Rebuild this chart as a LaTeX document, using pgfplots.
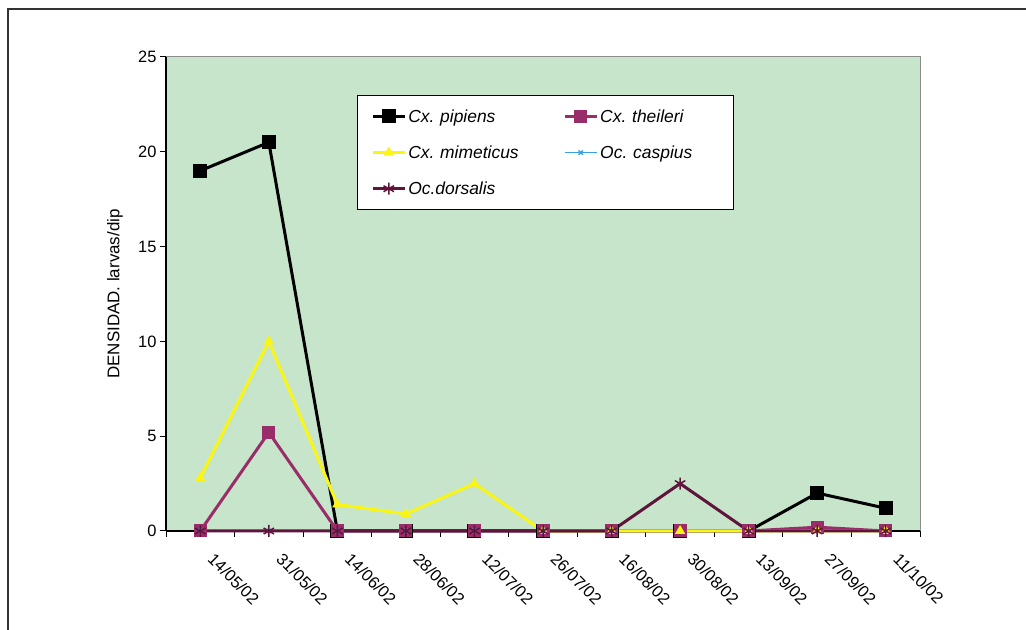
\documentclass[border=0pt]{standalone}
\usepackage{pgfplots}
\usepackage{pgfplotstable}
\pgfplotsset{compat=1.18}
\usepackage{fontspec}
\setmainfont{Liberation Sans}
\frenchspacing

\definecolor{plotbg}{RGB}{199,229,203}
\definecolor{theileri}{RGB}{153,45,105}
\definecolor{mimeticus}{RGB}{250,245,20}
\definecolor{caspius}{RGB}{60,160,230}
\definecolor{dorsalis}{RGB}{95,20,60}

% Larval density per dip, one column per species; x = sampling date index
\pgfplotstableread{
x  pipiens theileri mimeticus caspius dorsalis
0  19.0    0.0      2.8       0       0
1  20.5    5.2      10.0      0       0
2  0.0     0.0      1.4       0       0
3  0.0     0.0      0.9       0       0
4  0.0     0.0      2.5       0       0
5  0.0     0.0      0.0       0       0
6  0.0     0.0      0.0       0       0
7  0.0     0.0      0.0       nan     2.5
8  0.0     0.0      0.0       nan     0
9  2.0     0.2      0.0       nan     0
10 1.2     0.0      0.0       nan     0
}\density

\begin{document}
\begin{tikzpicture}
\useasboundingbox (0,0) rectangle (1026bp,630bp);
% outer frame
\draw[line width=1.5bp, black!80] (8bp,0) -- (8bp,621bp) -- (1026bp,621bp);
\begin{axis}[
  at={(166bp,99bp)}, anchor=south west,
  scale only axis, width=754bp, height=474bp,
  xmin=-0.5, xmax=10.5, ymin=0, ymax=25,
  ytick={0,5,...,25},
  xtick={0,...,10},
  xticklabels={14/05/02,31/05/02,14/06/02,28/06/02,12/07/02,26/07/02,16/08/02,30/08/02,13/09/02,27/09/02,11/10/02},
  minor xtick={-0.5,0.5,...,10.5},
  major x tick style={draw=none},
  minor x tick style={black, line width=1bp},
  y tick style={black, line width=1bp},
  tick align=outside,
  major tick length=6bp, minor tick length=6bp,
  axis x line*=bottom, axis y line*=left,
  x axis line style={-, black, line width=1.5bp},
  y axis line style={-, black, line width=1.5bp},
  axis background/.style={fill=plotbg},
  /pgf/number format/assume math mode=true,
  tick label style={font=\fontsize{16.5}{19}\selectfont},
  xticklabel style={anchor=north west, xshift=15bp, yshift=-10bp, rotate=-45},
  ylabel={DENSIDAD. larvas/dip},
  every axis y label/.style={at={(axis description cs:0,0.5)},
    xshift=-51bp, rotate=90, anchor=center,
    font=\fontsize{17}{20}\selectfont},
  clip=false,
  legend columns=2,
  legend cell align=left,
  legend style={at={(0.253,0.92)}, anchor=north west,
    draw=black, line width=1bp, fill=white,
    font=\fontsize{17.5}{20}\selectfont\itshape,
    inner xsep=14bp, inner ysep=12bp,
    row sep=18bp,
    /tikz/column 2/.style={text width=143bp, align=left, column sep=10bp},
    /tikz/column 4/.style={text width=117bp, align=left}},
  legend image code/.code={
    \draw[mark repeat=2, mark phase=2] plot coordinates {(0bp,0bp) (16bp,0bp) (32bp,0bp)};},
]
\addplot[black, line width=3bp, mark=square*, mark size=5.5bp, mark options={solid}]
  table[x=x, y=pipiens] {\density};
\addlegendentry{Cx. pipiens}
\addplot[theileri, line width=3bp, mark=square*, mark size=5bp]
  table[x=x, y=theileri] {\density};
\addlegendentry{Cx. theileri}
\addplot[mimeticus, line width=3bp, mark=triangle*, mark size=3bp]
  table[x=x, y=mimeticus] {\density};
\addlegendentry{Cx. mimeticus}
\addplot[caspius, line width=1.5bp, mark=x, mark size=3bp, unbounded coords=jump]
  table[x=x, y=caspius] {\density};
\addlegendentry{Oc. caspius}
\addplot[dorsalis, line width=3bp, mark=asterisk, mark size=6bp, mark options={line width=1.5bp}]
  table[x=x, y=dorsalis] {\density};
\addlegendentry{Oc.dorsalis}
\end{axis}
% frame of the plotting area on the open sides
\draw[black!45, line width=1bp] (166bp,573bp) -- (920bp,573bp) -- (920bp,99bp);
\end{tikzpicture}
\end{document}
